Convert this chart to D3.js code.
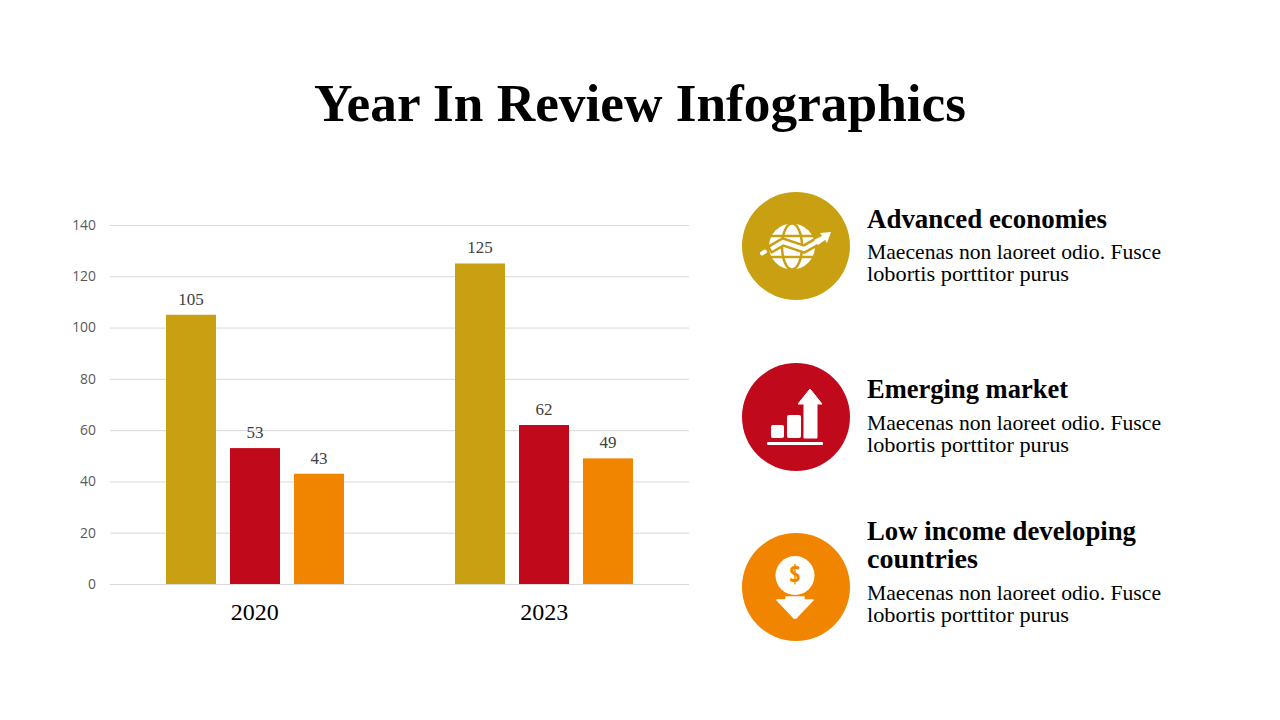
<!DOCTYPE html>
<html><head><meta charset="utf-8">
<script src="https://cdnjs.cloudflare.com/ajax/libs/d3/7.8.5/d3.min.js"></script>
<style>html,body{margin:0;padding:0;background:#fff}svg{display:block}</style>
</head><body><svg id="c" width="1280" height="720"></svg>
<script>
const titleText = "Year In Review Infographics";
const years = ["2020", "2023"];
const seriesNames = ["Advanced economies", "Emerging market", "Low income developing countries"];
const advanced = [105, 125];
const emerging = [53, 62];
const lowIncome = [43, 49];
const yTicks = [0, 20, 40, 60, 80, 100, 120, 140];
const colors = ["#C9A012", "#C00A1C", "#F28500"];
const bodyLines = ["Maecenas non laoreet odio. Fusce", "lobortis porttitor purus"];
const headingLines = [["Advanced economies"], ["Emerging market"], ["Low income developing", "countries"]];

const svg = d3.select("#c");
const SERIF = "'Liberation Serif', serif";
const SANS = "'Open Sans', sans-serif";

function fitted(sel, txt, x, y, w, size, weight, fill, anchor) {
  return sel.append("text").attr("x", x).attr("y", y).attr("font-family", SERIF)
    .attr("font-size", size).attr("font-weight", weight).attr("fill", fill)
    .attr("text-anchor", anchor || "start")
    .attr("textLength", w).attr("lengthAdjust", "spacingAndGlyphs").text(txt);
}
fitted(svg, titleText, 640, 121, 652, 53, 700, "#000", "middle");

const x = d3.scaleBand().domain(years).range([110, 689]);
const y = d3.scaleLinear().domain([0, 140]).range([584, 225]);
const inner = d3.scaleBand().domain(d3.range(3)).range([-89, 89]).paddingInner(14 / 64).paddingOuter(0);
const barX = (i, j) => Math.round(x(years[j]) + x.bandwidth() / 2 + inner(i));

const yAxis = svg.append("g").attr("transform", "translate(110,0)")
  .call(d3.axisLeft(y).tickValues(yTicks).tickSize(-579).tickPadding(14));
yAxis.select(".domain").remove();
yAxis.selectAll(".tick line").attr("stroke", "#D9D9D9").attr("stroke-width", 1);
yAxis.selectAll(".tick text").attr("font-family", SANS).attr("font-size", 13.9).attr("fill", "#595959").attr("dy", "0.31em");

[advanced, emerging, lowIncome].forEach((vals, i) => {
  const g = svg.append("g");
  g.selectAll("rect").data(vals).join("rect")
    .attr("x", (d, j) => barX(i, j))
    .attr("y", d => y(d)).attr("width", inner.bandwidth())
    .attr("height", d => y(0) - y(d)).attr("fill", colors[i]);
  g.selectAll("text").data(vals).join("text")
    .attr("x", (d, j) => barX(i, j) + inner.bandwidth() / 2)
    .attr("y", d => y(d) - 10).attr("text-anchor", "middle")
    .attr("font-family", SERIF).attr("font-size", 17).attr("fill", "#404040").text(d => d);
});

svg.append("g").selectAll("text").data(years).join("text")
  .attr("x", d => x(d) + x.bandwidth() / 2).attr("y", 620).attr("text-anchor", "middle")
  .attr("font-family", SERIF).attr("font-size", 24).attr("fill", "#000").text(d => d);

const cx = 796, rows = [246, 417, 587];
const headWidths = [[240], [201], [269, 111]];
const headBase = [[228], [398], [539.5, 567.5]];
const bodyBase = [[259, 281], [430, 452], [600, 622]];
const bodyW = [294, 202];

rows.forEach((cy, i) => {
  svg.append("circle").attr("cx", cx).attr("cy", cy).attr("r", 54).attr("fill", colors[i]);
  headingLines[i].forEach((t, k) => fitted(svg, t, 867, headBase[i][k], headWidths[i][k], 27, 700, "#000"));
  bodyLines.forEach((t, k) => fitted(svg, t, 867, bodyBase[i][k], bodyW[k], 21.5, 400, "#000"));
});

// Icon 1: globe with rising arrow
(function () {
  const g = svg.append("g").attr("transform", `translate(${cx},${rows[0]})`);
  const c = colors[0];
  g.append("circle").attr("cx", -4).attr("cy", 0.5).attr("r", 23).attr("fill", "#fff");
  g.append("ellipse").attr("cx", -4).attr("cy", 0.5).attr("rx", 10).attr("ry", 23).attr("fill", "none").attr("stroke", c).attr("stroke-width", 2.5);
  g.append("path").attr("d", "M-28,-10H20M-28,11H20").attr("stroke", c).attr("stroke-width", 2.5);
  g.append("path").attr("d", "M-27,4L-13,-4L8,3L24,-6").attr("fill", "none").attr("stroke", c).attr("stroke-width", 9);
  g.append("path").attr("d", "M-25,3L-13,-4L8,3L26,-7").attr("fill", "none").attr("stroke", "#fff").attr("stroke-width", 4);
  g.append("path").attr("d", "M-34,7.5L-31,5.5").attr("stroke", "#fff").attr("stroke-width", 4).attr("stroke-linecap", "round");
  g.append("path").attr("d", "M35,-14L24,-13L26,-10L18,-6L22,-1L29,-6L31,-3Z").attr("fill", "#fff");
})();

// Icon 2: bars with up arrow
(function () {
  const g = svg.append("g").attr("transform", `translate(${cx},${rows[1]})`).attr("fill", "#fff");
  g.append("rect").attr("x", -25).attr("y", 8).attr("width", 13).attr("height", 13).attr("rx", 2);
  g.append("rect").attr("x", -9).attr("y", -2).attr("width", 14).attr("height", 23).attr("rx", 2);
  g.append("path").attr("d", "M8,21V-13H2L14,-28L26,-13H21V21Z").attr("stroke", "#fff").attr("stroke-width", 1).attr("stroke-linejoin", "round");
  g.append("rect").attr("x", -29).attr("y", 25).attr("width", 56).attr("height", 3).attr("rx", 1);
})();

// Icon 3: dollar coin with down arrow
(function () {
  const g = svg.append("g").attr("transform", `translate(${cx - 1},${rows[2]})`);
  g.append("circle").attr("cy", -11.5).attr("r", 19.5).attr("fill", "#fff");
  g.append("text").attr("y", -4).attr("text-anchor", "middle").attr("font-family", SANS)
    .attr("font-weight", 700).attr("font-size", 25).attr("fill", colors[2])
    .attr("textLength", 11).attr("lengthAdjust", "spacingAndGlyphs").text("$");
  g.append("path").attr("d", "M-18,13H-9V10H9V13H18L1,31H-1Z").attr("fill", "#fff").attr("stroke", "#fff").attr("stroke-width", 1.5).attr("stroke-linejoin", "round");
})();
</script></body></html>
